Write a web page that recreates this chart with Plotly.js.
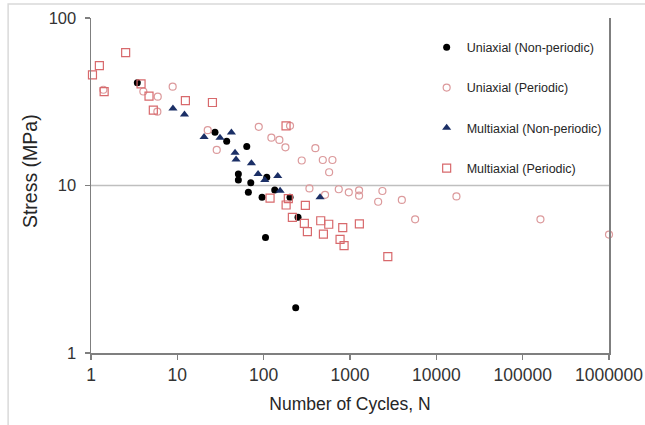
<!DOCTYPE html>
<html>
<head>
<meta charset="utf-8">
<script src="https://cdn.plot.ly/plotly-3.0.1.min.js"></script>
<style>
html,body{margin:0;padding:0;background:#fff;}
#chart{width:645px;height:425px;}
</style>
</head>
<body>
<div id="chart"></div>
<script>
// Uniaxial (Non-periodic)
var uniNonN = [3.44, 27.3, 37.3, 63.7, 50.9, 50.9, 70.9, 66.5, 95.8, 108.6, 134.3, 202, 250, 105, 235];
var uniNonS = [41.1, 20.8, 18.4, 17.1, 11.7, 10.8, 10.4, 9.1, 8.5, 11.2, 9.4, 8.5, 6.46, 4.9, 1.86];
// Uniaxial (Periodic)
var uniPerN = [1.39, 4.04, 5.93, 5.87, 8.83, 22.5, 28.6, 87.7, 202, 122.8, 152, 178.7, 397, 276, 484, 626, 573, 339, 514, 741, 968, 1274, 1274, 2373, 2119, 3985, 5680, 17100, 160700, 1000000];
var uniPerS = [37.3, 36.4, 33.9, 27.6, 38.9, 21.4, 16.3, 22.4, 22.7, 19.3, 18.7, 16.9, 16.7, 14.1, 14.2, 14.2, 12.0, 9.6, 8.8, 9.5, 9.1, 9.36, 8.7, 9.27, 8.0, 8.2, 6.28, 8.6, 6.28, 5.09];
// Multiaxial (Non-periodic)
var multiNonN = [8.9, 12.1, 20.4, 31.2, 42.3, 46.6, 47.9, 72.1, 86.1, 103, 145.6, 155, 450];
var multiNonS = [28.8, 26.5, 19.5, 19.3, 20.7, 15.7, 14.3, 13.6, 11.7, 10.8, 11.4, 9.3, 8.5];
// Multiaxial (Periodic)
var multiPerN = [1.04, 1.25, 2.52, 1.42, 3.8, 4.70, 5.27, 12.4, 25.5, 181.6, 118.6, 193, 182, 304, 215, 296, 321, 458, 567, 492, 824, 767, 854, 1284, 2741];
var multiPerS = [45.7, 51.9, 62.1, 36.3, 40.4, 34.2, 28.2, 32.1, 31.3, 22.7, 8.4, 8.36, 7.65, 7.6, 6.46, 5.94, 5.3, 6.16, 5.87, 5.13, 5.6, 4.77, 4.37, 5.9, 3.76];

var xTicks = [1, 10, 100, 1000, 10000, 100000, 1000000];
var xTickText = ['1', '10', '100', '1000', '10000', '100000', '1000000'];
var yTicks = [1, 10, 100];
var yTickText = ['1', '10', '100'];

var seriesNames = ['Uniaxial (Non-periodic)', 'Uniaxial (Periodic)', 'Multiaxial (Non-periodic)', 'Multiaxial (Periodic)'];
var xTitle = 'Number of Cycles, N';
var yTitle = 'Stress (MPa)';

var traces = [
  {x: uniNonN, y: uniNonS, name: seriesNames[0], legendgroup: 'a',
   marker: {symbol: 'circle', size: 7, color: '#000000'}},
  {x: uniPerN, y: uniPerS, name: seriesNames[1], legendgroup: 'b',
   marker: {symbol: 'circle-open', size: 7, color: '#dc9a9c', line: {width: 1.2}}},
  {x: multiNonN, y: multiNonS, name: seriesNames[2], legendgroup: 'c',
   marker: {symbol: 'triangle-up', size: 8, color: '#1b2f66'}},
  {x: multiPerN, y: multiPerS, name: seriesNames[3], legendgroup: 'd',
   marker: {symbol: 'square-open', size: 8, color: '#d8696c', line: {width: 1.2}}}
];
traces.forEach(function (t) { t.type = 'scatter'; t.mode = 'markers'; t.cliponaxis = false; });

var layout = {
  width: 645, height: 425,
  margin: {l: 91, r: 36, t: 18, b: 72},
  paper_bgcolor: '#ffffff', plot_bgcolor: '#ffffff',
  font: {family: 'Liberation Sans, Arial, sans-serif', color: '#333333'},
  showlegend: true,
  legend: {x: 0.648, y: 0.956, xanchor: 'left', yanchor: 'top',
           font: {size: 12.5, color: '#262626'}, tracegroupgap: 21,
           bgcolor: 'rgba(0,0,0,0)'},
  xaxis: {type: 'log', range: [0, 6], tickvals: xTicks, ticktext: xTickText,
          showgrid: false, zeroline: false, showline: true, linecolor: '#7f7f7f', linewidth: 1.5,
          ticks: 'outside', ticklen: 5, tickcolor: '#7f7f7f', tickwidth: 1.2,
          tickfont: {size: 17.5, color: '#333333'},
          title: {text: xTitle, standoff: 14, font: {size: 17.5, color: '#262626'}}},
  yaxis: {type: 'log', range: [0, 2], tickvals: yTicks, ticktext: yTickText,
          showgrid: false, zeroline: false, showline: true, mirror: true, linecolor: '#7f7f7f', linewidth: 1.5,
          ticks: 'outside', ticklen: 5, tickcolor: '#7f7f7f', tickwidth: 1.2,
          ticklabelstandoff: 5,
          tickfont: {size: 16.5, color: '#333333'}},
  annotations: [
    {text: yTitle, xref: 'paper', yref: 'paper', x: -0.1178, y: 0.543,
     xanchor: 'center', yanchor: 'middle', textangle: -90, showarrow: false,
     font: {size: 19.5, color: '#262626'}}
  ],
  shapes: [
    {type: 'line', xref: 'paper', yref: 'y', x0: 0, x1: 1, y0: 10, y1: 10,
     line: {color: '#bfbfbf', width: 1.5}, layer: 'below'},
    {type: 'rect', xref: 'paper', yref: 'paper', x0: -0.16, x1: 1.3, y0: -0.5, y1: 1.042,
     line: {color: '#d9d9d9', width: 1.5}, layer: 'below'}
  ]
};

Plotly.newPlot('chart', traces, layout, {staticPlot: true, displayModeBar: false});
</script>
</body>
</html>
